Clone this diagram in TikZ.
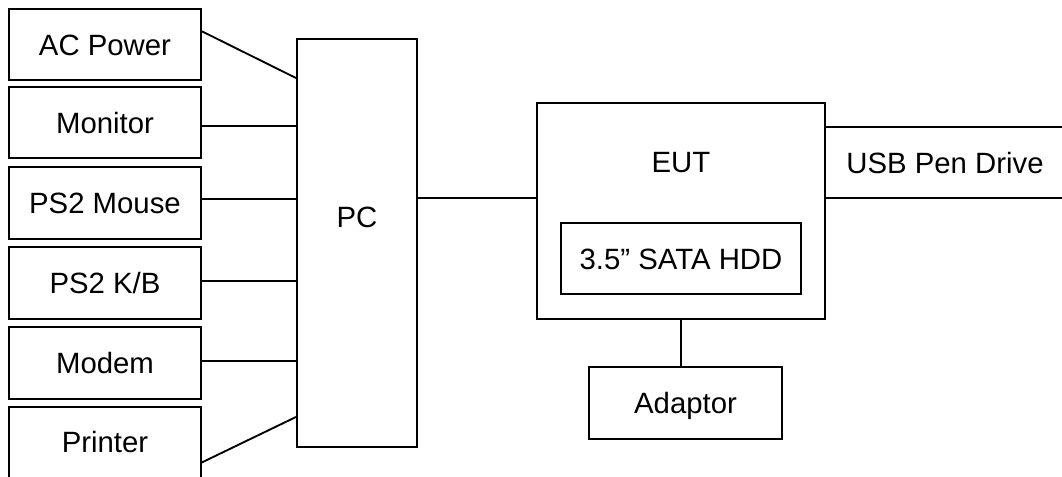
\documentclass[tikz,border=0pt]{standalone}
\usepackage{fontspec}
\setmainfont{Liberation Sans}
\usetikzlibrary{calc}
\begin{document}
\begin{tikzpicture}[x=0.75pt,y=-0.75pt,
  every node/.style={font=\fontsize{22}{26}\selectfont, text height=15.8pt, text depth=0pt, inner sep=0pt},
  box/.style={draw, line width=1.4pt},
  wire/.style={line width=1.4pt},
  leftbox/.style={minimum width=144pt, minimum height=53.5pt}]
\useasboundingbox (0,0) rectangle (1062,477);
% left devices
\node[box, leftbox] (AC) at (105,44.5) {AC Power};
\node[box, leftbox] (Monitor) at (105,122.5) {Monitor};
\node[box, leftbox] (Mouse) at (105,203) {PS2 Mouse};
\node[box, leftbox] (KB) at (105,283) {PS2 K/B};
\node[box, leftbox] (Modem) at (105,363) {Modem};
\node[leftbox, minimum height=52.5pt] (Printer) at (105,442) {Printer};
\draw[wire] (Printer.south west) -- (Printer.north west) -- (Printer.north east) -- (Printer.south east);
% PC
\node[box, minimum width=90pt, minimum height=306pt] (PC) at (357,243) {};
\node (PCt) at (357,217) {PC};
% EUT
\node[box, minimum width=216pt, minimum height=162pt] (EUT) at (681,211) {};
\node (EUTt) at (681,161.5) {EUT};
\node[box, minimum width=180pt, minimum height=53.25pt] (HDD) at (681,258.5) {3.5” SATA HDD};
\node[box, minimum width=144.75pt, minimum height=54pt] (Adaptor) at (685.5,403) {Adaptor};
\node (USB) at (945,162.5) {USB Pen Drive};
\coordinate (R1) at (1062,127);
\coordinate (R2) at (1062,198);
% connectors
\draw[wire] ($(AC.north east)!0.32!(AC.south east)$) -- ($(PC.north west)+(0,40)$);
\draw[wire] ($(Monitor.east)+(0,3.5)$) coordinate (m1) -- (m1 -| PC.west);
\draw[wire] ($(Mouse.east)+(0,-4)$) coordinate (m2) -- (m2 -| PC.west);
\draw[wire] ($(KB.east)+(0,-2)$) coordinate (m3) -- (m3 -| PC.west);
\draw[wire] ($(Modem.east)+(0,-2)$) coordinate (m4) -- (m4 -| PC.west);
\draw[wire] ($(Printer.north east)+(0,56)$) -- ($(PC.south west)+(0,-31)$);
\draw[wire] (EUT.west |- R2) coordinate (p1) -- (p1 -| PC.east);
\draw[wire] (EUT.east |- R1) -- (R1);
\draw[wire] (EUT.east |- R2) -- (R2);
\draw[wire] (Adaptor.north -| EUT.south) -- (EUT.south);
\end{tikzpicture}
\end{document}
